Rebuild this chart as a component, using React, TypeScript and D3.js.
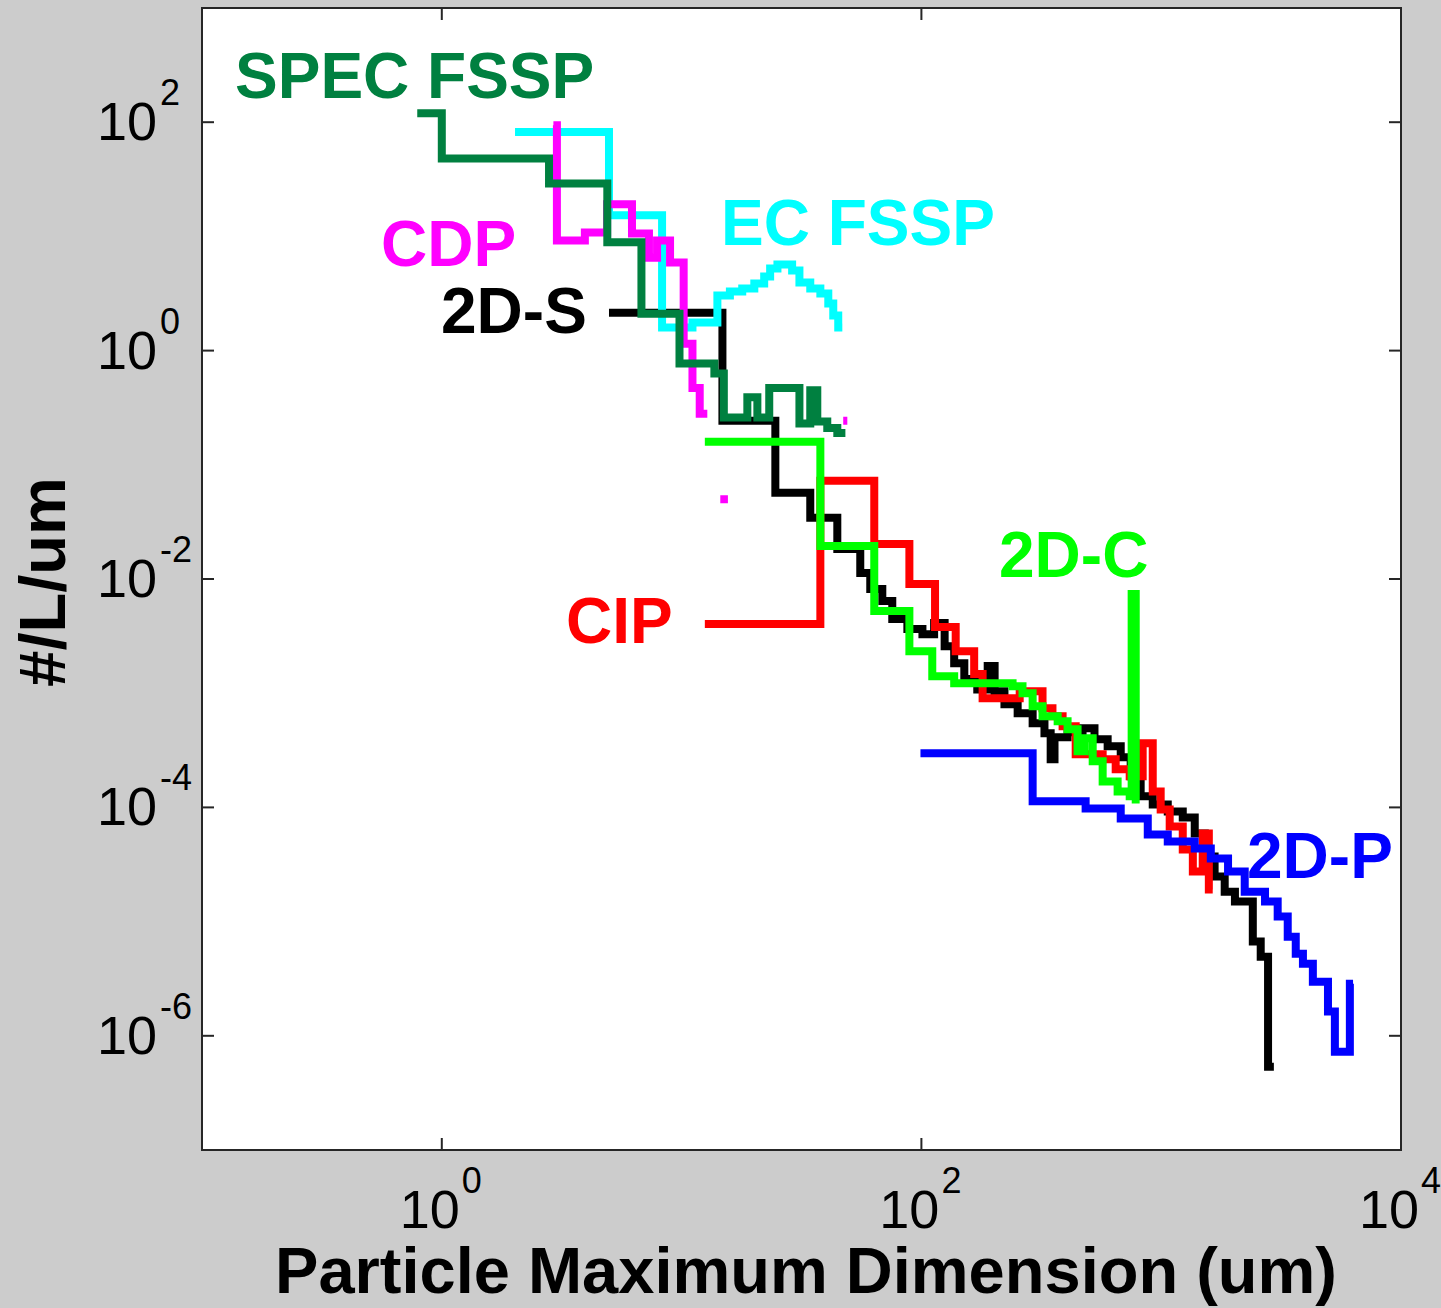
import React from 'react';
import * as d3 from 'd3';

// Particle size distributions (#/L/um) versus maximum dimension (um) for each probe.
// Each probe is a stair plot: bin lower edges (one more than values) and bin values.
// A null value leaves a gap in the line.

const xTickValues = [1, 100, 10000];
const yTickValues = [1e2, 1, 1e-2, 1e-4, 1e-6];

const twoDSEdges = [4.98, 14.8, 24.6, 34.4, 44.6, 55.6, 61.2, 68.7, 75.6, 87.4, 101, 113, 125, 137, 151, 171, 189, 202, 222, 252, 291, 326, 346, 359, 407, 470, 527, 598, 678, 746, 821, 922, 1065, 1230, 1380, 1520, 1670, 1840, 2030, 2410, 2600, 2790, 2950];
const twoDSValues = [2.15, 0.243, 0.0568, 0.0343, 0.0183, 0.0113, 0.00817, 0.00641, 0.00446, 0.00364, 0.00329, 0.00411, 0.00258, 0.00183, 0.00133, 0.00108, 0.00173, 0.00104, 0.000801, 0.000668, 0.000546, 0.000446, 0.000264, 0.000411, 0.000455, 0.000493, 0.000395, 0.000343, 0.000275, 0.000187, 0.000125, 0.000106, 9.22e-5, 8.17e-5, 5.91e-5, 3.72e-5, 2.48e-5, 1.83e-5, 1.5e-5, 6.68e-6, 4.93e-6, 5.35e-7];

const cipEdges = [12.5, 37.9, 63.6, 89.1, 114, 139, 166, 180, 257, 320, 352, 388, 440, 570, 646, 739, 837, 922, 995, 1085, 1230, 1355, 1490, 1580, 1640];
const cipValues = [0.00403, 0.0724, 0.0203, 0.00904, 0.00379, 0.00233, 0.00147, 0.000904, 0.00104, 0.000738, 0.000628, 0.000514, 0.000292, 0.000264, 0.000216, 0.000187, 0.000364, 0.000138, 9.6e-5, 6.81e-5, 4.28e-5, 2.75e-5, 5.91e-5, 1.91e-5];

const twoDCEdges = [12.5, 37.9, 63.6, 89.1, 111, 137, 240, 264, 291, 320, 370, 407, 448, 479, 518, 570, 658, 739, 753, 783, 813];
const twoDCValues = [0.159, 0.0195, 0.00524, 0.00233, 0.00141, 0.00122, 0.00115, 0.001, 0.000769, 0.000628, 0.000568, 0.000483, 0.00031, 0.000403, 0.000253, 0.000169, 0.000138, 0.000125, 0.00738, 0.000117];

const twoDPEdges = [99.1, 291, 484, 678, 879, 1065, 1380, 1610, 1900, 2230, 2710, 3060, 3370, 3640, 3900, 4290, 4960, 5300, 6120, 6310];
const twoDPValues = [0.000298, 0.000113, 9.8e-5, 8.01e-5, 5.8e-5, 5.03e-5, 4.37e-5, 3.57e-5, 2.75e-5, 1.83e-5, 1.5e-5, 1.11e-5, 7.38e-6, 5.24e-6, 4.28e-6, 2.98e-6, 1.63e-6, 7.24e-7, 2.86e-6];

const ecFsspEdges = [2.02, 4.98, 8.29, 11.1, 14.1, 15.9, 17.9, 20.1, 22.1, 23.4, 25.1, 28.9, 31.0, 34.4, 37.9, 40.9, 42.9, 45.0, 46.8];
const ecFsspValues = [82, 15.3, 1.59, 1.76, 3.04, 3.29, 3.5, 3.87, 4.46, 5.24, 5.68, 5.03, 3.95, 3.5, 3.16, 2.58, 2.03, 1.59];

const cdpEdges = [2.92, 3.02, 3.95, 4.89, 6.21, 7.31, 7.9, 8.95, 10.2, 11.1, 11.9, 12.8, 14.5, 15.6, 47.2, 49.1];
const cdpValues = [94, 9.2, 10.8, 19.1, 10.6, 6.5, 9.2, 5.9, 1.15, 0.47, 0.28, null, 0.05, null, 0.243];

const specFsspEdges = [0.79, 1.0, 2.8, 4.9, 6.8, 9.8, 13.7, 15.0, 18.8, 20.7, 23.2, 31.0, 34.4, 36.8, 40.5, 44.6, 48.2];
const specFsspValues = [120, 48, 29, 8.9, 2.1, 0.77, 0.63, 0.26, 0.39, 0.26, 0.47, 0.23, 0.45, 0.24, 0.21, 0.19];

// Drawing order: later entries sit on top.
const series = [
  { name: '2D-S', color: '#000000', edges: twoDSEdges, values: twoDSValues },
  { name: 'CIP', color: '#ff0000', edges: cipEdges, values: cipValues },
  { name: '2D-C', color: '#00ff00', edges: twoDCEdges, values: twoDCValues },
  { name: '2D-P', color: '#0000ff', edges: twoDPEdges, values: twoDPValues },
  { name: 'EC FSSP', color: '#00ffff', edges: ecFsspEdges, values: ecFsspValues },
  { name: 'CDP', color: '#ff00ff', edges: cdpEdges, values: cdpValues },
  { name: 'SPEC FSSP', color: '#008040', edges: specFsspEdges, values: specFsspValues },
];

// Where each probe's name is written (left edge, baseline), in page pixels.
const labelLayout: Record<string, [number, number]> = {
  'SPEC FSSP': [235, 98],
  'CDP': [381, 266],
  'EC FSSP': [721, 245],
  '2D-S': [441, 333],
  'CIP': [566, 643],
  '2D-C': [999, 577],
  '2D-P': [1247, 878],
};

const W = 1441;
const H = 1308;
const box = { left: 202, right: 1401, top: 8, bottom: 1150 };
const FONT = "'Liberation Sans', Arial, Helvetica, sans-serif";
const TICK_LEN = 12;

type Pt = [number, number] | null;

function stairPoints(edges: number[], values: (number | null)[]): Pt[] {
  const pts: Pt[] = [];
  values.forEach((v, i) => {
    if (v == null) {
      pts.push(null);
      return;
    }
    pts.push([edges[i], v]);
    if (i === values.length - 1 || values[i + 1] == null) {
      pts.push([edges[i + 1], v]);
    }
  });
  return pts;
}

export default function App() {
  const x = d3.scaleLog().domain([0.1, 1e4]).range([box.left, box.right]);
  const y = d3.scaleLog().domain([1e-7, 1e3]).range([box.bottom, box.top]);

  const line = d3
    .line<Pt>()
    .defined((d) => d != null)
    .x((d) => x((d as [number, number])[0]))
    .y((d) => y((d as [number, number])[1]))
    .curve(d3.curveStepAfter);

  const exp = (v: number) => String(Math.round(Math.log10(v)));

  return (
    <svg
      width={W}
      height={H}
      viewBox={`0 0 ${W} ${H}`}
      style={{ position: 'absolute', left: 0, top: 0, display: 'block' }}
      fontFamily={FONT}
    >
      <defs>
        <clipPath id="plot-area">
          <rect x={box.left} y={box.top} width={box.right - box.left} height={box.bottom - box.top} />
        </clipPath>
      </defs>
      <rect x={0} y={0} width={W} height={H} fill="#cccccc" />
      <rect x={box.left} y={box.top} width={box.right - box.left} height={box.bottom - box.top} fill="#ffffff" />

      <g clipPath="url(#plot-area)">
        {series.map((s) => (
          <path
            key={s.name}
            d={line(stairPoints(s.edges, s.values)) || ''}
            fill="none"
            stroke={s.color}
            strokeWidth={8}
            strokeLinejoin="miter"
            strokeLinecap="butt"
          />
        ))}
      </g>

      {series.map((s) => (
        <text
          key={`lab-${s.name}`}
          x={labelLayout[s.name][0]}
          y={labelLayout[s.name][1]}
          fill={s.color}
          fontSize={64}
          fontWeight="bold"
        >
          {s.name}
        </text>
      ))}

      {/* axes box */}
      <rect
        x={box.left}
        y={box.top}
        width={box.right - box.left}
        height={box.bottom - box.top}
        fill="none"
        stroke="#262626"
        strokeWidth={2}
      />

      {/* x ticks (bottom and top) and labels */}
      {xTickValues.map((t) => (
        <g key={`xt-${t}`}>
          <line x1={x(t)} x2={x(t)} y1={box.bottom} y2={box.bottom - TICK_LEN} stroke="#262626" strokeWidth={2} />
          <line x1={x(t)} x2={x(t)} y1={box.top} y2={box.top + TICK_LEN} stroke="#262626" strokeWidth={2} />
          <text x={x(t) + 18} y={1228} textAnchor="end" fontSize={54} fill="#000">
            10
          </text>
          <text x={x(t) + 20} y={1193} textAnchor="start" fontSize={36} fill="#000">
            {exp(t)}
          </text>
        </g>
      ))}

      {/* y ticks (left and right) and labels */}
      {yTickValues.map((t) => (
        <g key={`yt-${t}`}>
          <line x1={box.left} x2={box.left + TICK_LEN} y1={y(t)} y2={y(t)} stroke="#262626" strokeWidth={2} />
          <line x1={box.right} x2={box.right - TICK_LEN} y1={y(t)} y2={y(t)} stroke="#262626" strokeWidth={2} />
          <text x={157} y={y(t) + 18} textAnchor="end" fontSize={54} fill="#000">
            10
          </text>
          <text x={160} y={y(t) - 17} textAnchor="start" fontSize={36} fill="#000">
            {exp(t)}
          </text>
        </g>
      ))}

      <text x={806} y={1293} textAnchor="middle" fontSize={65} fontWeight="bold" fill="#000">
        Particle Maximum Dimension (um)
      </text>
      <text
        transform="translate(65,582) rotate(-90)"
        textAnchor="middle"
        fontSize={65}
        fontWeight="bold"
        fill="#000"
      >
        #/L/um
      </text>
    </svg>
  );
}
